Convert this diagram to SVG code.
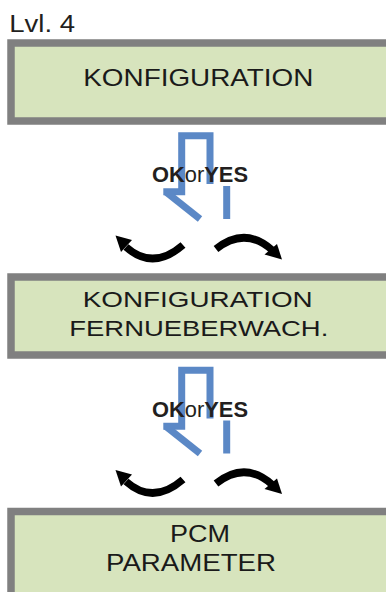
<svg xmlns="http://www.w3.org/2000/svg" width="386" height="592" viewBox="0 0 386 592">
<defs>
<style>
.box{fill:#d7e4bd;stroke:#808080;stroke-width:7.5}
.t{font-family:"Liberation Sans",Arial,sans-serif;fill:#1a1a1a;text-anchor:middle}
.lbl{font-family:"Liberation Sans",Arial,sans-serif;fill:#231f20}
.blue{fill:none;stroke:#5b88c6;stroke-width:7;stroke-linejoin:miter;stroke-linecap:butt}
.band{fill:none;stroke:#000;stroke-width:7.5;stroke-linecap:butt}
</style>
<g id="press">
<polyline class="blue" points="163.3,191.7 181.7,191.7 181.7,135.7 210,135.7 210,184"/>
<line class="blue" x1="166" y1="192" x2="200" y2="219"/>
<line class="blue" x1="226.7" y1="186" x2="226.7" y2="219"/>
<text class="lbl" x="152" y="182" font-size="22.5" textLength="96" lengthAdjust="spacingAndGlyphs"><tspan font-weight="bold">OK</tspan><tspan>or</tspan><tspan font-weight="bold">YES</tspan></text>
</g>
<g id="arrows">
<path class="band" d="M 183 245 Q 153 271 126 247"/>
<polygon points="115.5,235.5 132,240 121,252"/>
<path class="band" d="M 216 249 Q 245 226 272 250"/>
<polygon points="282,259.5 277,244 264.5,254.5"/>
</g>
</defs>
<text id="level" class="lbl" x="9.3" y="31.7" font-size="23" textLength="65.7" lengthAdjust="spacingAndGlyphs">Lvl. 4</text>
<g id="node1">
<rect class="box" x="11" y="43" width="380" height="78"/>
<text class="t" x="198.3" y="86" font-size="24.5" textLength="230" lengthAdjust="spacingAndGlyphs">KONFIGURATION</text>
</g>
<g id="node2">
<rect class="box" x="11" y="277" width="380" height="78"/>
<text class="t" x="197.7" y="306.7" font-size="22" textLength="230" lengthAdjust="spacingAndGlyphs">KONFIGURATION</text>
<text class="t" x="198.8" y="335.7" font-size="22.5" textLength="259" lengthAdjust="spacingAndGlyphs">FERNUEBERWACH.</text>
</g>
<g id="node3">
<rect class="box" x="11" y="511.5" width="380" height="86"/>
<text class="t" x="200" y="541.7" font-size="24" textLength="60" lengthAdjust="spacingAndGlyphs">PCM</text>
<text class="t" x="191" y="571" font-size="24.5" textLength="170" lengthAdjust="spacingAndGlyphs">PARAMETER</text>
</g>
<g id="connectors">
<use href="#press"/>
<use href="#arrows"/>
<use href="#press" transform="translate(0,234.5)"/>
<use href="#arrows" transform="translate(0,234.5)"/>
</g>
</svg>
